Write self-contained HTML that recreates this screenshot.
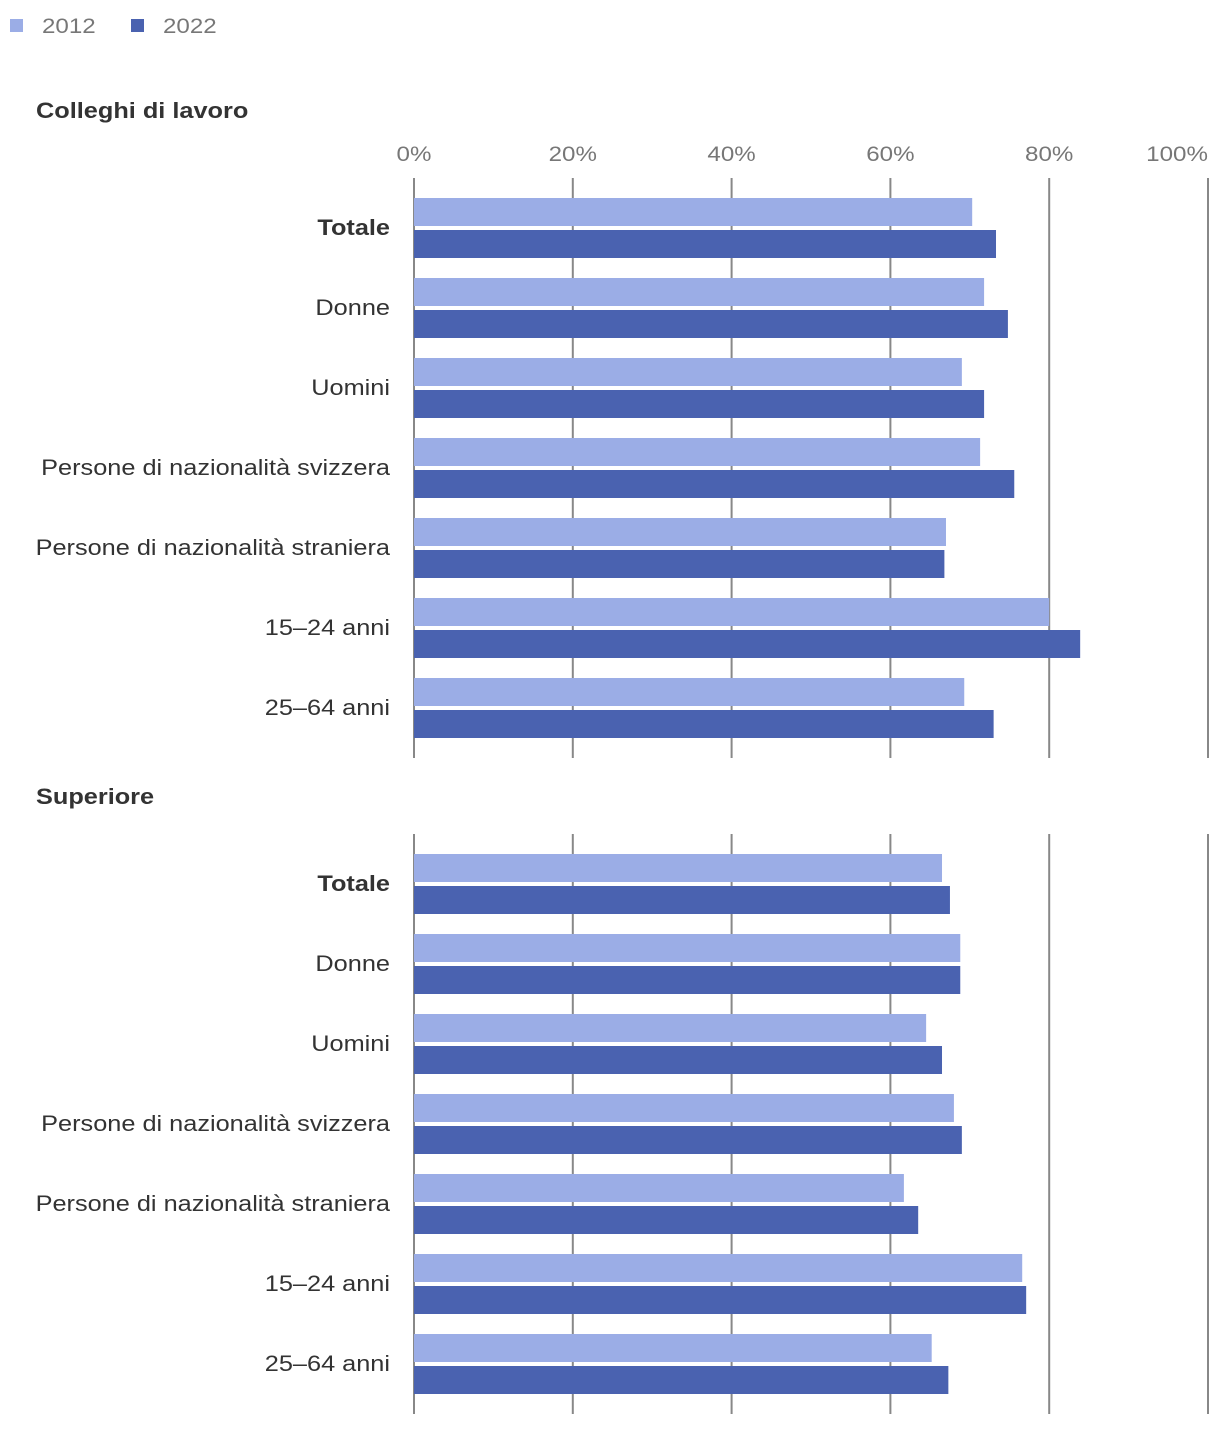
<!DOCTYPE html>
<html><head><meta charset="utf-8"><style>
body{margin:0;background:#fff;width:1220px;height:1426px;overflow:hidden;font-family:"Liberation Sans",sans-serif}
</style></head><body>
<svg id="chart" width="1220" height="1426" xmlns="http://www.w3.org/2000/svg" font-family="'Liberation Sans', sans-serif"></svg>
<script>
const categories=["Totale","Donne","Uomini","Persone di nazionalità svizzera","Persone di nazionalità straniera","15–24 anni","25–64 anni"];
const panelTitles=["Colleghi di lavoro","Superiore"];
const lavoro2012=[70.3,71.8,69.0,71.3,67.0,80.0,69.3];
const lavoro2022=[73.3,74.8,71.8,75.6,66.8,83.9,73.0];
const sup2012=[66.5,68.8,64.5,68.0,61.7,76.6,65.2];
const sup2022=[67.5,68.8,66.5,69.0,63.5,77.1,67.3];
const ticks=[0,20,40,60,80,100];
const seriesNames=["2012","2022"];

const svg=document.getElementById('chart');
const NS="http://www.w3.org/2000/svg";
const C1="#9badE6",C2="#4a62b0";
const x=v=>414+v*7.94;
function mk(t,a,txt){const e=document.createElementNS(NS,t);for(const k in a)e.setAttribute(k,a[k]);if(txt!==undefined)e.textContent=txt;svg.appendChild(e);
 if(t==='text'){const L=e.getComputedTextLength();if(L>0){e.setAttribute('textLength',(L*1.15).toFixed(1));e.setAttribute('lengthAdjust','spacingAndGlyphs');}}
 return e;}

[C1,C2].forEach((c,i)=>{
 const r=mk('rect',{x:10+i*121,y:19,width:13,height:13,fill:c});
 
 
 const t=mk('text',{x:42+i*121,y:33,'font-size':21,fill:'#777'},seriesNames[i]);
 
 
});
ticks.forEach((v,i)=>{
 const last=i===ticks.length-1;
 const t=mk('text',{x:last?1208:x(v),y:161,'font-size':21,fill:'#777','text-anchor':last?'end':'middle'},v+'%');
 
 
});
const panels=[[lavoro2012,lavoro2022],[sup2012,sup2022]];
panels.forEach((p,pi)=>{
 const top=pi===0?178:834;
 const tt=mk('text',{x:36,y:pi===0?118:804,'font-size':22,'font-weight':'bold',fill:'#333'},panelTitles[pi]);
 
 
 ticks.forEach(v=>{
  const l=mk('line',{x1:x(v),x2:x(v),y1:top,y2:top+580,stroke:'#888','stroke-width':2});
  
  
 });
 categories.forEach((c,i)=>{
  const gy=top+20+i*80;
  const lab=mk('text',{x:390,y:gy+37,'font-size':22,fill:'#333','text-anchor':'end','font-weight':i===0?'bold':'normal'},c);
  
  
  [p[0][i],p[1][i]].forEach((v,s)=>{
   const b=mk('rect',{x:x(0),y:gy+s*32,width:x(v)-x(0),height:28,fill:s?C2:C1});
   
   
  });
 });
});
</script>
</body></html>
